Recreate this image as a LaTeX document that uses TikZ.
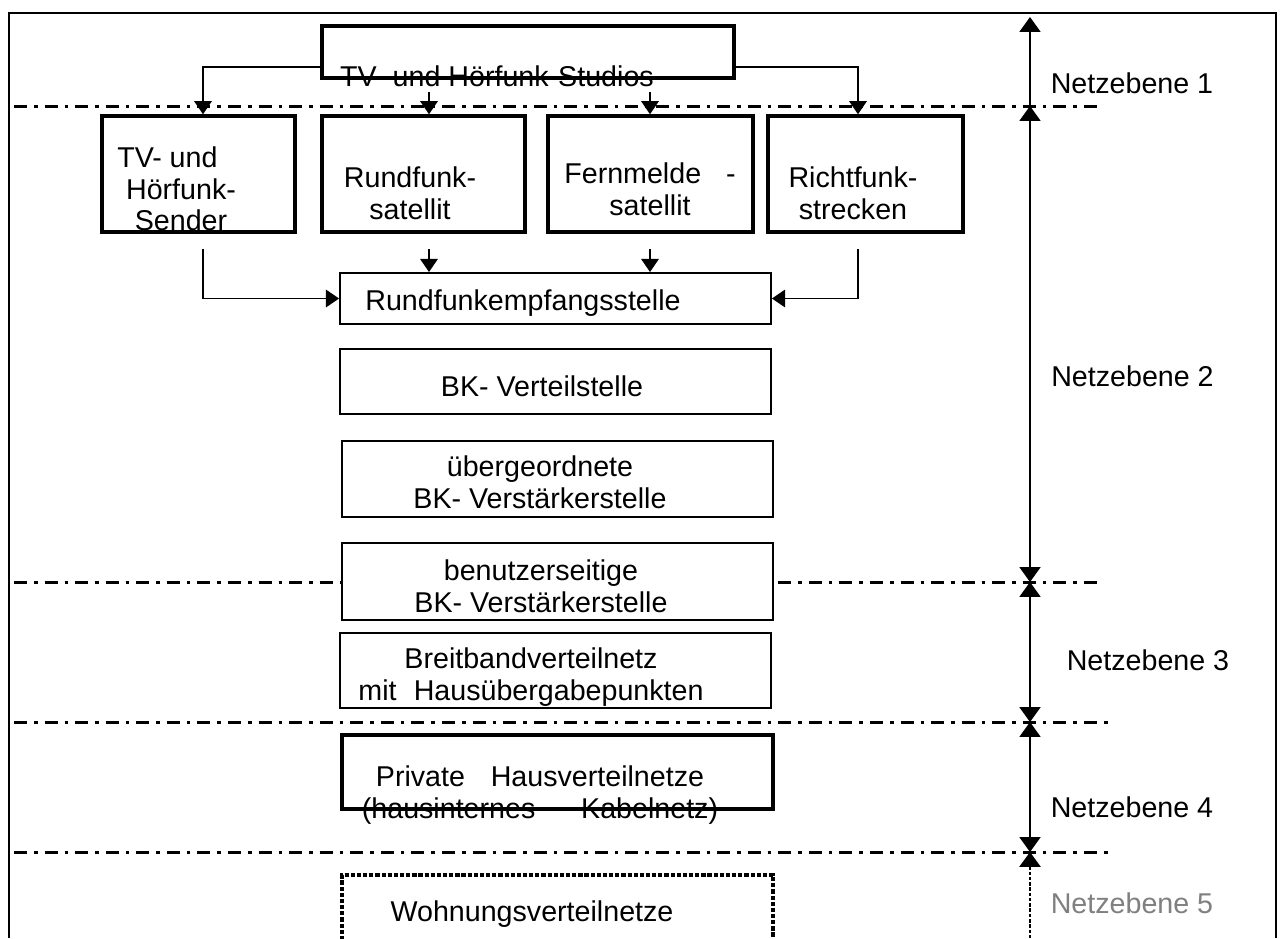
\documentclass[tikz,border=0pt]{standalone}
\usepackage{fontspec}
\setmainfont{Liberation Sans}
\usetikzlibrary{arrows.meta}

\begin{document}
\begin{tikzpicture}[x=0.02cm,y=-0.02cm,
		thickbox/.style={draw,line width=2pt,fill=white,inner sep=0pt},
		thinbox/.style={draw,line width=1.1pt,fill=white,inner sep=0pt},
		lbl/.style={font=\fontsize{16.3}{18}\selectfont,align=center,inner sep=0pt},
		conn/.style={line width=0.9pt,-{Triangle[length=7.5pt,width=10pt]}},
		level/.style={line width=0.9pt},
		sep/.style={line width=1.7pt,dash pattern=on 7.4pt off 4pt on 2pt off 4pt}]
		\useasboundingbox (0,0) rectangle (1282,938);
		% frame, open at the bottom
		\draw[line width=1.6pt] (9,938) -- (9,13) -- (1276,13) -- (1276,938);
		% borders between the levels
		\draw[sep] (14,106) -- (1099,106);
		\draw[sep] (14,582) -- (1098,582);
		\draw[sep] (14,722) -- (1110,722);
		\draw[sep] (14,852) -- (1110,852);
		% boxes
		\node[thickbox,minimum width=8.24cm,minimum height=1.04cm] (studios) at (528,52) {};
		\node[thickbox,minimum width=3.86cm,minimum height=2.32cm] (sender) at (198.5,174) {};
		\node[thickbox,minimum width=4.06cm,minimum height=2.32cm] (rsat) at (423.5,174) {};
		\node[thickbox,minimum width=4.10cm,minimum height=2.32cm] (fsat) at (650.5,174) {};
		\node[thickbox,minimum width=3.90cm,minimum height=2.32cm] (richt) at (865.5,174) {};
		\node[thinbox,minimum width=8.62cm,minimum height=1.02cm] (empf) at (555.5,298.5) {};
		\node[thinbox,minimum width=8.62cm,minimum height=1.30cm] (vert) at (555.5,381.5) {};
		\node[thinbox,minimum width=8.62cm,minimum height=1.52cm] (uebg) at (557.5,479) {};
		\node[thinbox,minimum width=8.62cm,minimum height=1.54cm] (benu) at (557.5,581.5) {};
		\node[thinbox,minimum width=8.62cm,minimum height=1.50cm] (breit) at (555.5,670.5) {};
		\node[thickbox,minimum width=8.62cm,minimum height=1.48cm] (priv) at (557.5,772) {};
		\draw[line width=2.2pt,dash pattern=on 2.4pt off 1.1pt] (342,940) -- (342,875) -- (773,875) -- (773,940);
		% texts
		\node[lbl] (studios-t) at (497,76) {TV- und Hörfunk-Studios};
		\node[lbl] (sender-t) at (181,189) {TV- und\hspace*{0.95em}\\Hörfunk-\\Sender};
		\node[lbl] (rsat-t) at (410,193) {Rundfunk-\\satellit};
		\node[lbl] (fsat-t) at (650,189) {Fernmelde\hspace{0.87em}-\\satellit};
		\node[lbl] (richt-t) at (853,193) {Richtfunk-\\strecken};
		\node[lbl] (empf-t) at (523,303) {Rundfunkempfangsstelle};
		\node[lbl] (vert-t) at (542,386.5) {BK- Verteilstelle};
		\node[lbl] (uebg-t) at (540,482) {übergeordnete\\BK- Verstärkerstelle};
		\node[lbl] (benu-t) at (541,586) {benutzerseitige\\BK- Verstärkerstelle};
		\node[lbl] (breit-t) at (531,677) {Breitbandverteilnetz\\mit\hspace{0.6em}Hausübergabepunkten};
		\node[lbl] (priv-t) at (540,795) {Private\hspace{0.9em}Hausverteilnetze\\(hausinternes\hspace{1.6em}Kabelnetz)};
		\node[lbl] (wohn-t) at (532,914.5) {Wohnungsverteilnetze};
		% connectors
		\draw[conn] (studios.west |- 0,67) -| (203,0 |- sender.north);
		\draw[conn] (studios.east |- 0,67) -| (858,0 |- richt.north);
		\draw[conn,shorten <=0.24cm] (studios.south -| 429,0) -- (429,0 |- rsat.north);
		\draw[conn,shorten <=0.24cm] (studios.south -| 650,0) -- (650,0 |- fsat.north);
		\draw[conn,shorten <=0.3cm] (rsat.south -| 429,0) -- (429,0 |- empf.north);
		\draw[conn,shorten <=0.3cm] (fsat.south -| 650,0) -- (650,0 |- empf.north);
		\draw[conn,shorten <=0.3cm] (sender.south -| 203,0) |- (empf.west);
		\draw[conn,shorten <=0.3cm] (richt.south -| 858,0) |- (empf.east);
		% levels on the right
		\coordinate (n0) at (1030,13);
		\coordinate (n1) at (1030,106);
		\coordinate (n2) at (1030,582);
		\coordinate (n3) at (1030,722);
		\coordinate (n4) at (1030,852);
		\coordinate (n5) at (1030,938);
		\draw[level,-{Triangle[length=8.5pt,width=12pt]},shorten >=0.08cm] (n1) -- (n0);
		\draw[level,{Triangle[length=8.5pt,width=12pt]}-{Triangle[length=8.5pt,width=12pt]}] (n1) -- (n2);
		\draw[level,{Triangle[length=8.5pt,width=12pt]}-{Triangle[length=8.5pt,width=12pt]}] (n2) -- (n3);
		\draw[level,{Triangle[length=8.5pt,width=12pt]}-{Triangle[length=8.5pt,width=12pt]}] (n3) -- (n4);
		\draw[line width=1.5pt,dash pattern=on 2pt off 1pt,{Triangle[length=8.5pt,width=12pt]}-] (n4) -- (n5);
		\node[lbl] (ne1) at (1132,83) {Netzebene 1};
		\node[lbl] (ne2) at (1132.5,376) {Netzebene 2};
		\node[lbl] (ne3) at (1148,660) {Netzebene 3};
		\node[lbl] (ne4) at (1132,807) {Netzebene 4};
		\node[lbl,text=gray] (ne5) at (1132,903) {Netzebene 5};
	\end{tikzpicture}
\end{document}
